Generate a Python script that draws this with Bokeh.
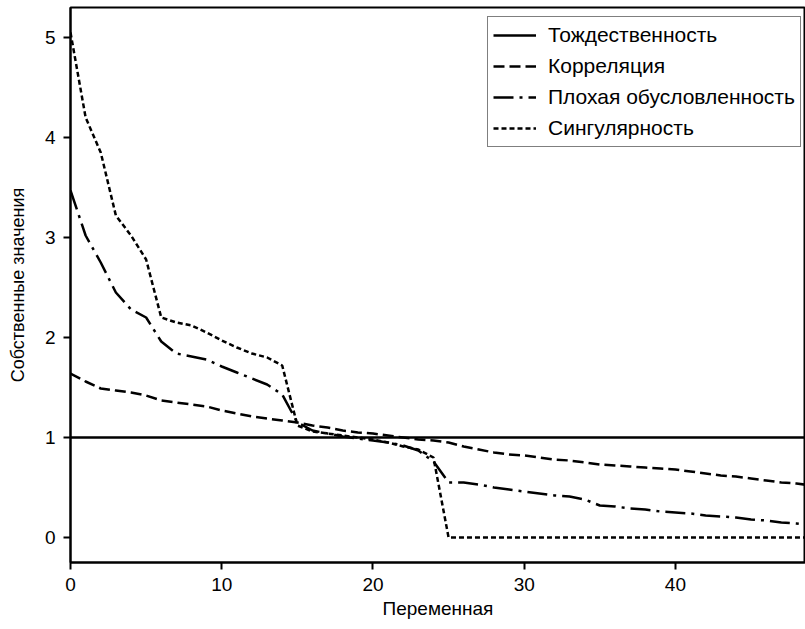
from bokeh.plotting import figure
from bokeh.models import Range1d, Legend, LegendItem, FixedTicker
from bokeh.embed import file_html
from bokeh.resources import INLINE

# Data
variables = list(range(50))
identity = [1.0] * 50
correlation = [1.64, 1.56, 1.49, 1.47, 1.45, 1.42, 1.37, 1.35, 1.33, 1.31,
               1.27, 1.24, 1.21, 1.19, 1.17, 1.15, 1.12, 1.10, 1.07, 1.05,
               1.04, 1.02, 1.00, 0.98, 0.97, 0.95, 0.91, 0.88, 0.85, 0.83,
               0.82, 0.80, 0.78, 0.77, 0.75, 0.73, 0.72, 0.71, 0.70, 0.69,
               0.68, 0.66, 0.64, 0.62, 0.61, 0.59, 0.57, 0.55, 0.54, 0.52]
ill_conditioned = [3.47, 3.02, 2.75, 2.45, 2.28, 2.20, 1.96, 1.84, 1.81, 1.78,
                   1.71, 1.65, 1.59, 1.53, 1.43, 1.15, 1.07, 1.04, 1.01, 0.99,
                   0.97, 0.95, 0.92, 0.87, 0.76, 0.55, 0.55, 0.53, 0.50, 0.48,
                   0.46, 0.44, 0.42, 0.41, 0.38, 0.32, 0.31, 0.29, 0.28, 0.26,
                   0.25, 0.24, 0.22, 0.21, 0.20, 0.18, 0.17, 0.15, 0.14, 0.12]
singular = [5.05, 4.20, 3.85, 3.22, 3.02, 2.78, 2.20, 2.15, 2.12, 2.05,
            1.97, 1.90, 1.84, 1.80, 1.72, 1.12, 1.06, 1.04, 1.02, 1.00,
            0.98, 0.95, 0.91, 0.88, 0.80, 0.00, 0.00, 0.00, 0.00, 0.00,
            0.00, 0.00, 0.00, 0.00, 0.00, 0.00, 0.00, 0.00, 0.00, 0.00,
            0.00, 0.00, 0.00, 0.00, 0.00, 0.00, 0.00, 0.00, 0.00, 0.00]
series_names = ["Тождественность", "Корреляция", "Плохая обусловленность", "Сингулярность"]
x_ticks = [0, 10, 20, 30, 40]
y_ticks = [0, 1, 2, 3, 4, 5]
x_title = "Переменная"
y_title = "Собственные значения"

FONT = "Liberation Sans"

p = figure(width=805, height=625, output_backend="svg", toolbar_location=None,
           x_range=Range1d(0, 48.6), y_range=Range1d(-0.25, 5.3),
           min_border_left=70, min_border_right=0, min_border_top=7, min_border_bottom=63)
p.xgrid.visible = False
p.ygrid.visible = False
p.outline_line_color = "black"
p.outline_line_width = 2
p.background_fill_color = "white"
p.border_fill_color = "white"

for ax in (p.xaxis[0], p.yaxis[0]):
    ax.axis_line_width = 2
    ax.major_tick_line_width = 2
    ax.major_tick_in = 0
    ax.major_tick_out = 7
    ax.minor_tick_line_color = None
    ax.major_label_text_font = FONT
    ax.major_label_text_font_size = "19px"
    ax.major_label_text_color = "black"
    ax.axis_label_text_font = FONT
    ax.axis_label_text_font_size = "19px"
    ax.axis_label_text_font_style = "normal"
    ax.axis_label_text_color = "black"
    ax.major_label_standoff = 8
    ax.axis_label_standoff = 4

p.xaxis[0].ticker = FixedTicker(ticks=x_ticks)
p.yaxis[0].ticker = FixedTicker(ticks=y_ticks)
p.xaxis[0].axis_label = x_title
p.yaxis[0].axis_label = y_title
p.yaxis[0].axis_label_text_font_size = "18px"
p.yaxis[0].axis_label_standoff = 14

LW = 2.5
r1 = p.line(variables, identity, line_color="black", line_width=LW)
r2 = p.line(variables, correlation, line_color="black", line_width=LW, line_dash="11 5")
r3 = p.line(variables, ill_conditioned, line_color="black", line_width=LW, line_dash="20 6 3 6")
r4 = p.line(variables, singular, line_color="black", line_width=LW, line_dash="5 3")

legend = Legend(items=[LegendItem(label=series_names[0], renderers=[r1]),
                       LegendItem(label=series_names[1], renderers=[r2]),
                       LegendItem(label=series_names[2], renderers=[r3]),
                       LegendItem(label=series_names[3], renderers=[r4])],
                location=(417, 415))
legend.border_line_color = "black"
legend.border_line_width = 1.5
legend.background_fill_alpha = 1
legend.label_text_font = FONT
legend.label_text_font_size = "21px"
legend.label_text_color = "black"
legend.glyph_width = 43
legend.glyph_height = 26
legend.label_height = 26
legend.spacing = 5
legend.padding = 5
legend.margin = 0
legend.label_standoff = 12
p.add_layout(legend, "center")

open("out.html", "w").write(file_html(p, INLINE))
